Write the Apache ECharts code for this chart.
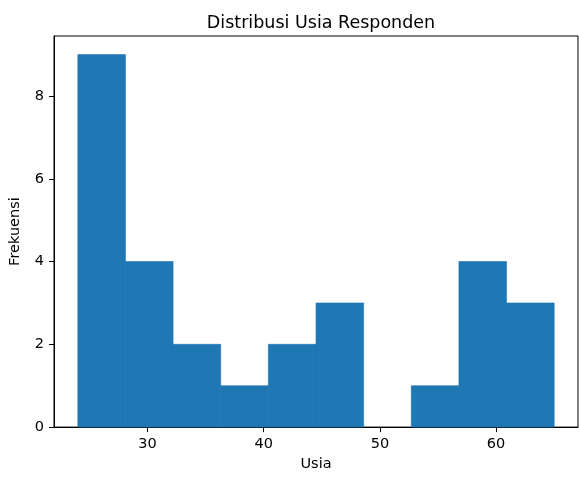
<!DOCTYPE html>
<html><head><meta charset="utf-8">
<script src="https://cdn.jsdelivr.net/npm/echarts@6/dist/echarts.min.js"></script>
<style>html,body{margin:0;padding:0;background:#fff;}#c{width:579px;height:477px;}</style>
</head><body><div id="c"></div>
<script>
const binEdges = [24, 28.1, 32.2, 36.3, 40.4, 44.5, 48.6, 52.7, 56.8, 60.9, 65];
const counts = [9, 4, 2, 1, 2, 3, 0, 1, 4, 3];
const xTicks = [30, 40, 50, 60];
const yTicks = [0, 2, 4, 6, 8];

const data = counts.map((c, i) => [binEdges[i], binEdges[i + 1], c]);
const font = 'DejaVu Sans';
const chart = echarts.init(document.getElementById('c'), null, {renderer: 'canvas'});
chart.setOption({
  animation: false,
  title: {text: 'Distribusi Usia Responden', left: 316, top: 9, textAlign: 'center',
    textStyle: {fontFamily: font, fontSize: 17.5, fontWeight: 'normal', color: '#000'}},
  grid: {left: 53, right: 1, top: 36, bottom: 45, show: true, borderColor: '#000', borderWidth: 1, backgroundColor: 'transparent'},
  xAxis: {type: 'value', min: 21.95, max: 67.05, name: 'Usia', nameLocation: 'middle', nameGap: 29,
    nameTextStyle: {fontFamily: font, fontSize: 14.5, color: '#000'},
    axisLine: {show: true, lineStyle: {color: '#000', width: 1}},
    axisTick: {show: true, length: 5, lineStyle: {color: '#000'}, customValues: xTicks},
    axisLabel: {fontFamily: font, fontSize: 14.5, color: '#000', margin: 10, customValues: xTicks},
    splitLine: {show: false}},
  yAxis: {type: 'value', min: 0, max: 9.45, name: 'Frekuensi', nameLocation: 'middle', nameGap: 31,
    nameTextStyle: {fontFamily: font, fontSize: 14.5, color: '#000'},
    axisLine: {show: true, lineStyle: {color: '#000', width: 1}},
    axisTick: {show: true, length: 5, lineStyle: {color: '#000'}, customValues: yTicks},
    axisLabel: {fontFamily: font, fontSize: 14.5, color: '#000', margin: 10, customValues: yTicks},
    splitLine: {show: false}},
  series: [{
    type: 'custom',
    data: data,
    encode: {x: [0, 1], y: 2},
    renderItem: function (params, api) {
      const p0 = api.coord([api.value(0), api.value(2)]);
      const p1 = api.coord([api.value(1), 0]);
      const h = p1[1] - p0[1];
      return {type: 'rect', shape: {x: p0[0], y: p0[1], width: p1[0] - p0[0], height: h},
        style: {fill: '#1f77b4', stroke: h > 0 ? '#1f77b4' : null, lineWidth: h > 0 ? 0.6 : 0}};
    }
  }]
});
</script></body></html>
